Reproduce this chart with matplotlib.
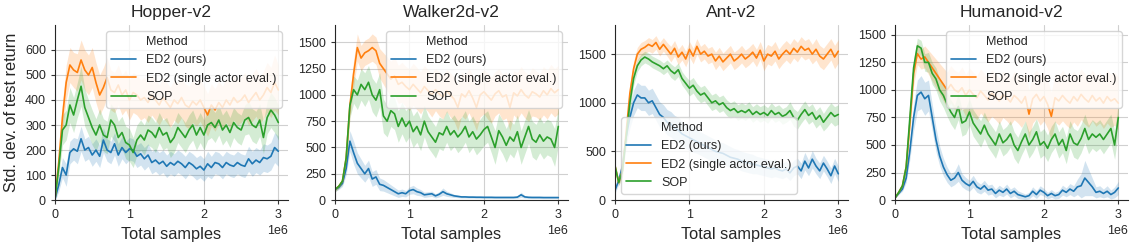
import numpy as np
import matplotlib
matplotlib.use("Agg")
import matplotlib.pyplot as plt
from matplotlib.lines import Line2D
import seaborn as sns

# total samples (x 1e6), one reading every 0.05e6
steps = [i * 0.05 for i in range(61)]

methods = ["ED2 (ours)", "ED2 (single actor eval.)", "SOP"]
colors = ["#1f77b4", "#ff7f0e", "#2ca02c"]
envs = ["Hopper-v2", "Walker2d-v2", "Ant-v2", "Humanoid-v2"]

hopper_ed2 = [5, 60, 130, 100, 190, 205, 195, 245, 200, 210, 180, 200, 175, 240, 200, 190,
              225, 180, 210, 190, 205, 200, 175, 185, 165, 180, 150, 160, 145, 155, 135, 150,
              140, 155, 145, 130, 150, 140, 125, 135, 120, 145, 130, 150, 145, 130, 150, 140,
              135, 150, 140, 135, 165, 145, 160, 150, 170, 165, 175, 210, 195]
hopper_single = [5, 150, 330, 470, 540, 520, 510, 560, 520, 500, 530, 470, 420, 450, 490, 440,
                 430, 460, 420, 440, 400, 430, 420, 400, 410, 390, 420, 400, 380, 410, 390, 370,
                 400, 385, 410, 380, 370, 395, 380, 400, 370, 340, 380, 360, 390, 370, 400, 380,
                 410, 390, 400, 420, 390, 410, 430, 400, 420, 450, 430, 470, 440]
hopper_sop = [5, 130, 280, 300, 380, 340, 400, 455, 370, 330, 290, 260, 300, 260, 250, 320,
              300, 250, 270, 230, 220, 190, 240, 260, 240, 280, 270, 250, 290, 260, 270, 230,
              250, 290, 270, 250, 280, 300, 260, 290, 260, 300, 310, 290, 320, 280, 300, 270,
              310, 290, 280, 320, 330, 300, 290, 320, 250, 330, 360, 340, 310]

walker_ed2 = [100, 120, 160, 300, 560, 450, 350, 300, 250, 300, 200, 220, 150, 140, 120, 100,
              80, 60, 70, 60, 90, 100, 80, 70, 50, 55, 60, 40, 55, 80, 60, 50,
              40, 35, 30, 30, 28, 28, 27, 27, 26, 26, 26, 25, 25, 25, 25, 25,
              25, 28, 50, 30, 26, 25, 25, 25, 24, 24, 24, 24, 24]
walker_single = [100, 130, 180, 400, 900, 1200, 1450, 1350, 1400, 1420, 1450, 1420, 1300, 1250, 1200, 1150,
                 1180, 1100, 1120, 1080, 1050, 1100, 1060, 1020, 1080, 1040, 1000, 1050, 1010, 980, 1040, 1000,
                 960, 880, 1010, 980, 1040, 970, 880, 1000, 1030, 990, 950, 1010, 1040, 980, 1000, 880,
                 1020, 990, 1050, 1000, 970, 1030, 1010, 980, 1040, 1000, 1060, 1020, 1050]
walker_sop = [100, 130, 180, 400, 900, 1050, 1000, 1100, 1050, 1120, 1000, 950, 1050, 800, 750, 850,
              820, 700, 780, 700, 750, 650, 700, 620, 750, 650, 600, 550, 640, 620, 700, 620,
              660, 600, 640, 700, 600, 650, 580, 620, 670, 700, 600, 500, 660, 600, 520, 600,
              560, 650, 500, 600, 700, 580, 550, 620, 560, 600, 580, 500, 700]

ant_ed2 = [100, 200, 350, 650, 850, 1000, 1080, 1050, 1050, 1000, 1020, 950, 880, 850, 800, 780,
           740, 720, 680, 660, 640, 620, 600, 580, 560, 540, 520, 500, 490, 480, 460, 440,
           430, 420, 400, 390, 380, 370, 360, 350, 340, 330, 320, 330, 310, 300, 320, 280,
           330, 350, 300, 400, 330, 420, 350, 300, 380, 320, 250, 350, 270]
ant_single = [350, 180, 300, 700, 1100, 1350, 1500, 1550, 1570, 1600, 1580, 1620, 1550, 1600, 1550, 1500,
              1560, 1470, 1520, 1450, 1550, 1480, 1580, 1500, 1530, 1480, 1500, 1430, 1480, 1420, 1460, 1500,
              1430, 1460, 1500, 1450, 1480, 1520, 1460, 1540, 1430, 1500, 1480, 1530, 1450, 1500, 1540, 1500,
              1560, 1520, 1580, 1540, 1560, 1500, 1550, 1480, 1450, 1500, 1550, 1470, 1530]
ant_sop = [350, 180, 300, 650, 1000, 1250, 1380, 1440, 1470, 1450, 1420, 1400, 1380, 1350, 1380, 1330,
           1300, 1340, 1250, 1200, 1150, 1180, 1120, 1080, 1100, 1050, 1000, 1020, 980, 1000, 950, 920,
           940, 900, 920, 900, 930, 880, 910, 880, 900, 870, 920, 880, 900, 860, 880, 920,
           850, 820, 880, 930, 870, 900, 830, 870, 800, 850, 900, 860, 880]

humanoid_ed2 = [20, 60, 100, 200, 450, 750, 950, 980, 920, 950, 750, 550, 400, 300, 230, 180,
                200, 250, 180, 150, 130, 170, 120, 100, 130, 90, 100, 60, 90, 70, 100, 60,
                80, 50, 40, 30, 40, 80, 50, 90, 70, 40, 60, 40, 50, 90, 70, 100,
                80, 120, 130, 200, 160, 120, 70, 80, 60, 80, 50, 70, 110]
humanoid_single = [20, 70, 130, 300, 700, 1150, 1330, 1280, 1300, 1250, 1200, 1150, 1100, 1050, 1000, 1050,
                   1000, 980, 1020, 950, 1000, 960, 930, 990, 950, 910, 970, 940, 900, 960, 930, 890,
                   950, 920, 880, 940, 780, 920, 960, 900, 940, 870, 760, 930, 900, 950, 910, 880,
                   940, 900, 960, 920, 890, 950, 900, 930, 880, 940, 900, 920, 880]
humanoid_sop = [20, 70, 130, 300, 750, 1200, 1400, 1380, 1250, 1250, 1150, 1100, 1000, 950, 870, 800,
                750, 850, 700, 720, 800, 700, 650, 600, 680, 600, 550, 500, 600, 520, 550, 600,
                500, 450, 530, 600, 500, 550, 620, 500, 530, 470, 550, 600, 500, 550, 450, 600,
                520, 500, 560, 650, 550, 600, 570, 600, 550, 600, 650, 500, 750]

# half-width of the shaded bands
hopper_band = [[10, 25, 40, 45, 45, 45, 50, 50, 45, 45, 45, 45, 45, 50, 45, 45,
                45, 45, 45, 45, 45, 45, 45, 45, 45, 45, 45, 45, 45, 45, 45, 45,
                45, 45, 45, 45, 45, 45, 45, 45, 45, 50, 45, 45, 45, 45, 45, 45,
                45, 45, 45, 45, 50, 50, 50, 50, 55, 55, 55, 60, 60],
               [10, 40, 60, 70, 70, 70, 75, 80, 80, 80, 80, 80, 80, 80, 80, 80,
                80, 80, 80, 80, 80, 80, 80, 80, 80, 80, 80, 80, 80, 80, 80, 80,
                80, 80, 80, 85, 85, 85, 85, 85, 85, 85, 85, 85, 85, 85, 90, 90,
                90, 90, 90, 90, 90, 95, 95, 95, 95, 100, 100, 110, 100],
               [10, 40, 60, 60, 70, 70, 70, 80, 75, 70, 70, 65, 65, 65, 65, 65,
                65, 65, 65, 65, 65, 60, 60, 60, 60, 60, 60, 60, 60, 60, 60, 60,
                60, 60, 60, 60, 60, 60, 60, 60, 60, 60, 60, 60, 60, 60, 60, 60,
                60, 60, 60, 60, 65, 65, 65, 65, 65, 65, 70, 70, 70]]
walker_band = [[20, 20, 30, 60, 100, 110, 100, 90, 80, 80, 70, 70, 60, 55, 50, 45,
                40, 35, 35, 30, 35, 40, 35, 30, 25, 25, 25, 20, 25, 35, 25, 20,
                15, 12, 10, 10, 10, 10, 10, 10, 10, 10, 10, 10, 10, 10, 10, 10,
                10, 12, 25, 12, 10, 10, 10, 10, 10, 10, 10, 10, 10],
               [20, 20, 30, 80, 120, 130, 130, 120, 120, 120, 130, 130, 140, 150, 160, 170,
                180, 180, 190, 190, 200, 200, 200, 200, 200, 200, 210, 200, 210, 210, 200, 210,
                210, 220, 210, 210, 210, 220, 220, 210, 210, 220, 220, 210, 210, 220, 220, 220,
                210, 220, 220, 220, 220, 230, 220, 220, 230, 230, 230, 230, 230],
               [20, 20, 30, 80, 120, 130, 140, 150, 160, 160, 160, 160, 160, 160, 150, 150,
                150, 150, 150, 150, 150, 150, 150, 150, 150, 150, 150, 150, 150, 150, 150, 150,
                150, 150, 150, 150, 150, 150, 150, 150, 150, 150, 150, 160, 160, 160, 160, 160,
                160, 160, 160, 160, 160, 170, 170, 170, 170, 170, 170, 180, 180]]
ant_band = [[30, 40, 60, 90, 110, 130, 130, 130, 130, 130, 130, 130, 130, 130, 130, 130,
             130, 130, 130, 130, 130, 130, 120, 120, 120, 120, 120, 120, 110, 110, 110, 110,
             100, 100, 100, 100, 100, 100, 90, 90, 90, 90, 90, 90, 80, 80, 80, 80,
             80, 80, 80, 90, 80, 90, 80, 80, 80, 80, 80, 80, 80],
            [30, 30, 60, 80, 80, 80, 70, 70, 70, 70, 70, 70, 70, 70, 70, 80,
             80, 80, 80, 80, 80, 80, 80, 80, 80, 80, 80, 90, 90, 90, 90, 90,
             90, 90, 90, 90, 90, 90, 90, 90, 100, 100, 100, 100, 100, 100, 100, 100,
             100, 100, 100, 100, 100, 100, 110, 110, 110, 110, 110, 120, 120],
            [30, 30, 60, 80, 80, 70, 60, 60, 60, 60, 60, 60, 60, 60, 60, 70,
             70, 70, 70, 70, 80, 80, 80, 80, 80, 80, 80, 80, 80, 80, 80, 80,
             80, 80, 80, 80, 80, 80, 80, 80, 80, 80, 80, 80, 80, 80, 80, 90,
             90, 90, 90, 90, 90, 90, 90, 90, 90, 100, 100, 100, 100]]
humanoid_band = [[5, 10, 20, 40, 80, 120, 140, 150, 150, 140, 120, 110, 90, 80, 70, 60,
                  60, 80, 60, 55, 50, 55, 50, 45, 50, 45, 45, 40, 45, 40, 45, 40,
                  40, 35, 30, 25, 30, 40, 35, 40, 35, 30, 35, 30, 35, 45, 40, 50,
                  50, 70, 110, 160, 120, 80, 50, 50, 40, 50, 40, 50, 60],
                 [5, 10, 20, 50, 90, 110, 100, 90, 100, 110, 120, 130, 140, 150, 160, 170,
                  180, 180, 190, 190, 200, 200, 200, 200, 200, 200, 210, 210, 210, 210, 210, 210,
                  220, 220, 220, 220, 220, 220, 220, 220, 220, 220, 220, 220, 220, 230, 230, 230,
                  230, 230, 230, 230, 230, 230, 230, 230, 230, 240, 240, 240, 240],
                 [5, 10, 20, 50, 90, 80, 70, 70, 80, 90, 100, 100, 100, 110, 110, 110,
                  110, 120, 120, 120, 120, 120, 120, 120, 120, 120, 120, 120, 120, 120, 120, 120,
                  120, 120, 120, 120, 120, 120, 120, 120, 120, 120, 120, 120, 120, 120, 120, 120,
                  130, 130, 130, 130, 130, 130, 130, 130, 130, 130, 130, 130, 130]]

series = [
    [hopper_ed2, hopper_single, hopper_sop],
    [walker_ed2, walker_single, walker_sop],
    [ant_ed2, ant_single, ant_sop],
    [humanoid_ed2, humanoid_single, humanoid_sop],
]
bands = [hopper_band, walker_band, ant_band, humanoid_band]
ylims = [700, 1665, 1800, 1590]
yticks = [range(0, 700, 100), range(0, 1501, 250), range(0, 1501, 500), range(0, 1501, 250)]
legend_locs = ["upper right", "upper right", "lower left", "upper right"]

sns.set_style("ticks")
plt.rcParams["font.family"] = ["Liberation Sans", "DejaVu Sans"]
plt.rcParams["axes.grid"] = True
plt.rcParams["grid.color"] = "#d0d0d0"
plt.rcParams["grid.linewidth"] = 0.8

fig = plt.figure(figsize=(11.33, 2.47), dpi=100)
x = np.array(steps) * 1e6

for k, env in enumerate(envs):
    ax = fig.add_axes([(55 + 280 * k) / 1133, 0.19, 233 / 1133, 0.709])
    handles = [Line2D([], [], color="none")]
    for m in range(3):
        y = np.array(series[k][m])
        hw = np.array(bands[k][m])
        ax.fill_between(x, y - hw, y + hw, color=colors[m], alpha=0.2, lw=0)
        line, = ax.plot(x, y, color=colors[m], lw=1.2)
        handles.append(line)
    ax.set_xlim(0, 3.13e6)
    ax.set_ylim(0, ylims[k])
    ax.set_yticks(list(yticks[k]))
    ax.set_xticks([0, 1e6, 2e6, 3e6])
    ax.tick_params(labelsize=9, length=3, color="#333333")
    ax.xaxis.get_offset_text().set_fontsize(9)
    ax.set_title(env, fontsize=12.5)
    ax.set_xlabel("Total samples", fontsize=11.8)
    if k == 0:
        ax.set_ylabel("Std. dev. of test return", fontsize=11.8)
    for s in ["top", "right"]:
        ax.spines[s].set_visible(False)
    # seaborn-style legend: "Method" is an entry with an empty handle
    ax.legend(handles, ["Method"] + methods, loc=legend_locs[k], fontsize=9,
              framealpha=0.8)

fig.savefig("out.png", dpi=100)
